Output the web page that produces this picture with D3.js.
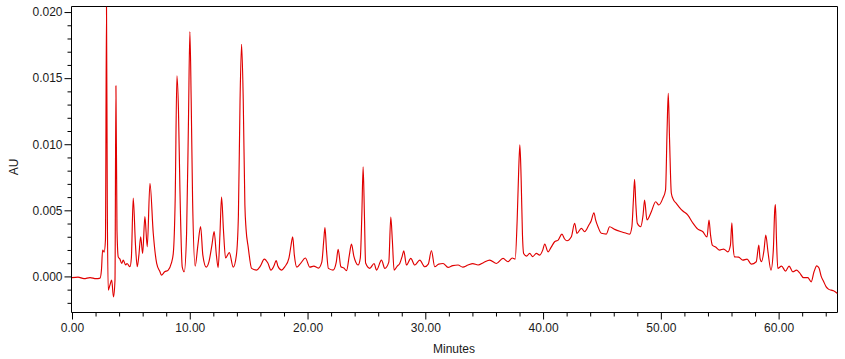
<!DOCTYPE html>
<html>
<head>
<meta charset="utf-8">
<script src="https://cdn.jsdelivr.net/npm/d3@7"></script>
<style>
  html, body { margin: 0; padding: 0; background: #fff; }
  svg { display: block; }
  text { font-family: "Liberation Sans", Arial, sans-serif; }
</style>
</head>
<body>
<svg id="chart" width="845" height="359"></svg>
<script>
// Retention times (minutes)
const times = [
  0, 0.51, 1.02, 1.53, 2.04, 2.38, 2.50, 2.60, 2.73, 2.84, 2.93, 2.995, 3.08, 3.22, 3.37, 3.52, 3.65, 3.73, 3.82, 3.93,
  4.07, 4.22, 4.35, 4.56, 4.67, 4.92, 5.04, 5.20, 5.39, 5.54, 5.68, 5.83, 6.00, 6.19, 6.39, 6.62, 6.90, 7.19, 7.47, 7.59,
  7.87, 8.17, 8.43, 8.60, 8.76, 8.91, 9.04, 9.16, 9.36, 9.53, 9.73, 9.89, 10.01, 10.12, 10.24, 10.46, 10.69, 10.92, 11.11, 11.40,
  11.62, 11.88, 12.07, 12.26, 12.41, 12.56, 12.70, 12.86, 13.04, 13.36, 13.69, 13.96, 14.13, 14.27, 14.40, 14.54, 14.68, 14.78, 14.96, 15.25,
  15.67, 15.99, 16.33, 16.63, 16.89, 17.14, 17.34, 17.48, 17.78, 18.08, 18.42, 18.59, 18.74, 18.88, 19.09, 19.43, 19.81, 20.20, 20.53, 20.92,
  21.21, 21.38, 21.48, 21.61, 21.77, 22.17, 22.44, 22.60, 22.83, 23.08, 23.31, 23.55, 23.73, 23.93, 24.10, 24.29, 24.48, 24.61, 24.72, 24.83,
  24.93, 25.29, 25.65, 25.86, 26.28, 26.56, 26.90, 27.07, 27.20, 27.35, 27.62, 27.83, 28.04, 28.17, 28.40, 28.77, 29.10, 29.53, 29.95, 30.25,
  30.52, 30.80, 31.14, 31.51, 31.93, 32.33, 32.78, 33.18, 33.63, 34.03, 34.48, 34.96, 35.47, 36.04, 36.60, 37.02, 37.38, 37.63, 37.80, 37.93,
  38.03, 38.14, 38.25, 38.35, 38.60, 38.86, 39.12, 39.43, 39.71, 39.97, 40.14, 40.42, 40.69, 40.98, 41.28, 41.60, 41.83, 42.03, 42.40, 42.68,
  42.88, 43.25, 43.53, 43.89, 44.08, 44.32, 44.46, 44.66, 44.95, 45.37, 45.65, 46.08, 46.64, 47.01, 47.35, 47.54, 47.67, 47.77, 47.88, 48.00,
  48.28, 48.49, 48.62, 48.82, 49.19, 49.56, 49.83, 50.17, 50.40, 50.53, 50.63, 50.74, 50.89, 51.08, 51.31, 51.59, 51.87, 52.29, 52.69, 53.14,
  53.57, 53.92, 54.09, 54.22, 54.37, 54.65, 54.99, 55.33, 55.69, 55.91, 56.03, 56.13, 56.26, 56.60, 56.96, 57.32, 57.68, 58.10, 58.32, 58.42,
  58.55, 58.76, 58.91, 59.10, 59.35, 59.55, 59.67, 59.73, 59.82, 59.93, 60.25, 60.59, 60.89, 61.21, 61.52, 61.77, 62.11, 62.48, 62.77, 63.00,
  63.24, 63.43, 63.61, 63.81, 64.04, 64.23, 64.46, 64.66, 65.00
];
// Absorbance (AU) at each retention time
const absorbance = [
  -0.00009, -0.00005, -0.00017, -0.00009, -0.00017, -0.00013, 0.00048, 0.00199, 0.00184, 0.00275, 0.02040, 0.00578, -0.00104, -0.00066, -0.00028, -0.00155, -0.00028, 0.01442, 0.00351, 0.00146,
  0.00131, 0.00098, 0.00123, 0.00086, 0.00098, 0.00073, 0.00139, 0.00593, 0.00237, 0.00073, 0.00161, 0.00300, 0.00174, 0.00452, 0.00224, 0.00705, 0.00326, 0.00098, 0.00035, 0.00010,
  0.00035, 0.00048, 0.00098, 0.00174, 0.00578, 0.01517, 0.01260, 0.00679, 0.00073, 0.00035, 0.00326, 0.01184, 0.01853, 0.01336, 0.00578, 0.00078, 0.00237, 0.00377, 0.00161, 0.00070,
  0.00108, 0.00237, 0.00339, 0.00161, 0.00067, 0.00313, 0.00601, 0.00351, 0.00139, 0.00180, 0.00070, 0.00161, 0.00464, 0.01336, 0.01756, 0.01336, 0.00540, 0.00358, 0.00224, 0.00061,
  0.00048, 0.00078, 0.00131, 0.00101, 0.00048, 0.00078, 0.00120, 0.00078, 0.00048, 0.00074, 0.00139, 0.00230, 0.00300, 0.00161, 0.00070, 0.00101, 0.00139, 0.00070, 0.00078, 0.00063,
  0.00108, 0.00275, 0.00370, 0.00199, 0.00061, 0.00048, 0.00108, 0.00205, 0.00073, 0.00063, 0.00044, 0.00161, 0.00245, 0.00154, 0.00108, 0.00086, 0.00139, 0.00464, 0.00830, 0.00464,
  0.00101, 0.00061, 0.00098, 0.00048, 0.00123, 0.00061, 0.00108, 0.00449, 0.00275, 0.00048, 0.00078, 0.00098, 0.00154, 0.00194, 0.00086, 0.00136, 0.00086, 0.00123, 0.00073, 0.00093,
  0.00194, 0.00073, 0.00093, 0.00098, 0.00068, 0.00082, 0.00086, 0.00070, 0.00086, 0.00097, 0.00086, 0.00105, 0.00123, 0.00098, 0.00136, 0.00111, 0.00139, 0.00131, 0.00427, 0.00805,
  0.00995, 0.00730, 0.00313, 0.00174, 0.00154, 0.00174, 0.00150, 0.00174, 0.00161, 0.00199, 0.00245, 0.00186, 0.00222, 0.00262, 0.00275, 0.00320, 0.00283, 0.00270, 0.00300, 0.00402,
  0.00326, 0.00364, 0.00338, 0.00389, 0.00419, 0.00482, 0.00427, 0.00376, 0.00326, 0.00320, 0.00376, 0.00356, 0.00338, 0.00328, 0.00320, 0.00376, 0.00578, 0.00735, 0.00540, 0.00402,
  0.00376, 0.00464, 0.00578, 0.00427, 0.00489, 0.00565, 0.00540, 0.00591, 0.00654, 0.01108, 0.01386, 0.01033, 0.00629, 0.00578, 0.00553, 0.00521, 0.00495, 0.00464, 0.00408, 0.00358,
  0.00338, 0.00298, 0.00427, 0.00313, 0.00237, 0.00222, 0.00199, 0.00207, 0.00186, 0.00237, 0.00406, 0.00237, 0.00148, 0.00146, 0.00123, 0.00131, 0.00093, 0.00111, 0.00237, 0.00139,
  0.00112, 0.00199, 0.00313, 0.00184, 0.00048, 0.00199, 0.00502, 0.00544, 0.00275, 0.00061, 0.00078, 0.00040, 0.00078, 0.00035, 0.00048, 0.00029, -0.00009, -0.00009, -0.00041, 0.00033,
  0.00080, 0.00063, 0.00002, -0.00036, -0.00079, -0.00096, -0.00104, -0.00108, -0.00129
];

const xMajorTicks = [0, 10, 20, 30, 40, 50, 60];
const xMinorTicks = [2, 4, 6, 8, 12, 14, 16, 18, 22, 24, 26, 28, 32, 34, 36, 38, 42, 44, 46, 48, 52, 54, 56, 58, 62, 64];
const yMajorTicks = [0.000, 0.005, 0.010, 0.015, 0.020];
const yMinorTicks = [-0.002, -0.001, 0.001, 0.002, 0.003, 0.004, 0.006, 0.007, 0.008, 0.009, 0.011, 0.012, 0.013, 0.014, 0.016, 0.017, 0.018, 0.019];
const xDomain = [0, 65];
const yDomain = [-0.00273, 0.02042];
const xTitle = "Minutes";
const yTitle = "AU";

const svg = d3.select("#chart");
const pLeft = 71.5, pRight = 837.5, pTop = 6.5, pBottom = 312.5;

const x = d3.scaleLinear().domain(xDomain).range([pLeft + 0.5, pRight]);
const y = d3.scaleLinear().domain(yDomain).range([pBottom, pTop]);

const points = times.map((t, i) => [t, absorbance[i]]);

const ink = "#1a1a1a";

// clip so the trace never crosses the frame
svg.append("defs").append("clipPath").attr("id", "plotClip")
  .append("rect").attr("x", pLeft).attr("y", pTop).attr("width", pRight - pLeft).attr("height", pBottom - pTop);

// frame (top and right)
svg.append("path")
  .attr("d", `M${pLeft},${pTop}H${pRight}V${pBottom}`)
  .attr("fill", "none").attr("stroke", "#000").attr("stroke-width", 1);

// trace
svg.append("path")
  .datum(points)
  .attr("clip-path", "url(#plotClip)")
  .attr("fill", "none")
  .attr("stroke", "#e00000")
  .attr("stroke-width", 1.15)
  .attr("stroke-linejoin", "round")
  .attr("d", d3.line().curve(d3.curveMonotoneX).x(d => x(d[0])).y(d => y(d[1])));

// x axis
const gxMinor = svg.append("g").attr("transform", `translate(0,${pBottom})`)
  .call(d3.axisBottom(x).tickValues(xMinorTicks).tickSize(4).tickFormat(""));
const gx = svg.append("g").attr("transform", `translate(0,${pBottom})`)
  .call(d3.axisBottom(x).tickValues(xMajorTicks).tickSize(7).tickPadding(4).tickFormat(d3.format(".2f")));

// y axis
const gyMinor = svg.append("g").attr("transform", `translate(${pLeft},0)`)
  .call(d3.axisLeft(y).tickValues(yMinorTicks).tickSize(4).tickFormat(""));
const gy = svg.append("g").attr("transform", `translate(${pLeft},0)`)
  .call(d3.axisLeft(y).tickValues(yMajorTicks).tickSize(7).tickPadding(2).tickFormat(d3.format(".3f")));

[gxMinor, gx, gyMinor, gy].forEach(g => {
  g.selectAll("line").attr("stroke", "#000");
  g.selectAll("text").attr("fill", ink).style("font-size", "12px").style("font-family", '"Liberation Sans", Arial, sans-serif');
});
gxMinor.select(".domain").remove();
gyMinor.select(".domain").remove();
gx.select(".domain").attr("stroke", "#000").attr("d", `M${pLeft},0H${pRight}`);
gy.select(".domain").attr("stroke", "#000").attr("d", `M0,${pTop}V${pBottom}`);

// titles
svg.append("text")
  .attr("x", 454).attr("y", 353)
  .attr("text-anchor", "middle")
  .attr("fill", ink).style("font-size", "12px")
  .text(xTitle);

svg.append("text")
  .attr("transform", "translate(18,167) rotate(-90)")
  .attr("text-anchor", "middle")
  .attr("fill", ink).style("font-size", "12px")
  .text(yTitle);
</script>
</body>
</html>
